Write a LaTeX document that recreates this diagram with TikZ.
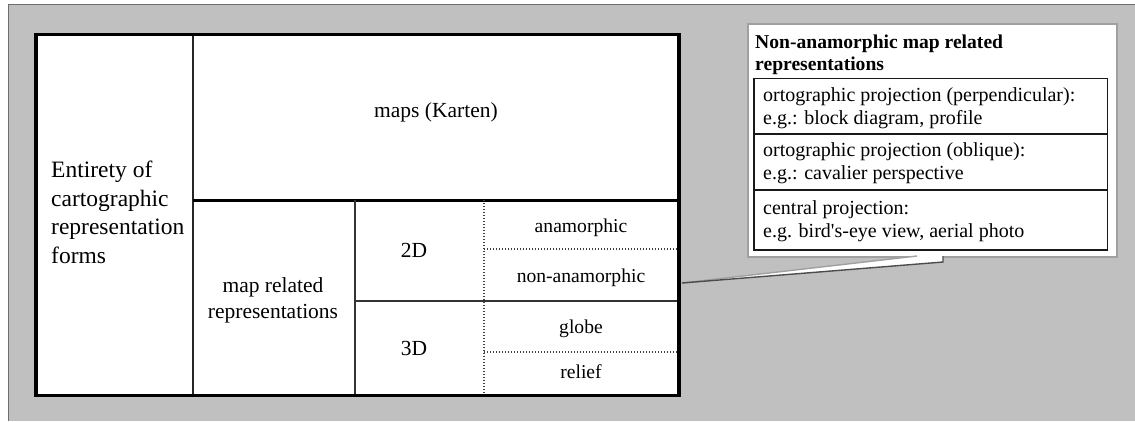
\documentclass[tikz,border=0pt]{standalone}
\usepackage{fontspec}
\setmainfont{Liberation Serif}
\usetikzlibrary{calc}
\definecolor{panelgray}{HTML}{C0C0C0}
\definecolor{paneledge}{HTML}{6E6E6E}
\definecolor{noteedge}{HTML}{A0A0A0}
\tikzset{
  thickrule/.style={line width=3.3pt, black},
  midrule/.style={line width=2.4pt, black!85},
  thinrule/.style={line width=1.8pt, black!80},
  dotrule/.style={line width=1.4pt, black!75, dash pattern=on 1.4pt off 1.6pt},
  notebox/.style={fill=white, draw=noteedge, line width=1.6pt},
  notegrid/.style={line width=1.3pt, black!90},
  bigtext/.style={inner sep=0pt, font=\fontsize{23.5}{28.5}\selectfont},
  celltext/.style={inner sep=0pt, font=\fontsize{21.5}{26}\selectfont},
  smalltext/.style={inner sep=0pt, font=\fontsize{19.6}{23}\selectfont},
  notetext/.style={inner sep=0pt, align=left, anchor=base west, font=\fontsize{20}{23}\selectfont},
}
\begin{document}
\begin{tikzpicture}[x=1pt, y=-1pt]
\useasboundingbox (0,0) rectangle (1135,421);

% grey backdrop
\fill[panelgray] (8,4) rectangle (1135,421);
\draw[paneledge, line width=1pt] (8,421) -- (8,4) -- (1135,4);

% main table
\fill[white] (36,34.5) rectangle (679,395.7);
\draw[midrule] (192.8,34.5) -- (192.8,395.7);
\draw[line width=3pt] (192.8,200) -- (679,200);
\draw[thinrule] (355,200) -- (355,395.7);
\draw[thinrule] (355,301) -- (679,301);
\draw[dotrule] (484,200) -- (484,395.7);
\draw[dotrule] (484,249) -- (679,249);
\draw[dotrule] (484,352) -- (679,352);
\draw[thickrule] (36,34.5) rectangle (679,395.7);

% table texts (multi-line nodes: base = baseline of the last line)
\node[bigtext, anchor=base west, align=left] (entirety) at (51,263)
  {Entirety of\\cartographic\\representation\\forms};
\node[celltext, anchor=base] (maps) at (436,117) {maps (Karten)};
\node[celltext, anchor=base, align=center] (related) at (273,318)
  {map related\\representations};
\node[celltext, anchor=base] (twoD) at (414,257) {2D};
\node[celltext, anchor=base] (threeD) at (414,355) {3D};
\node[smalltext, anchor=base] (anam) at (581,232) {anamorphic};
\node[smalltext, anchor=base] (nonanam) at (581,282) {non-anamorphic};
\node[smalltext, anchor=base] (globe) at (581,333) {globe};
\node[smalltext, anchor=base] (relief) at (581,378) {relief};

% callout box
\node[notebox, minimum width=369pt, minimum height=233pt, anchor=north west,
      inner sep=0pt] (note) at (747,23) {};
\coordinate (tip) at (682,283);
\coordinate (tailA) at (917,256);
\coordinate (tailB) at (943,262);
\coordinate (tailC) at (943,256);
\fill[white] (tailA) -- (tip) -- (tailB) -- (tailC) -- cycle;
\draw[noteedge, line width=1.4pt] (tailA) -- (tip);
\draw[black!70, line width=1.4pt] (tip) -- (tailB) -- (tailC);
\fill[white] ($(tailA)+(0.8,0)$) rectangle ($(tailC)+(-0.8,-1.2)$);

% callout grid
\draw[notegrid] (754,78.7) rectangle (1107.7,250);
\draw[notegrid] (754,134) -- (1107.7,134);
\draw[notegrid] (754,190) -- (1107.7,190);

% callout texts
\node[notetext, font=\bfseries\fontsize{19.6}{22}\selectfont] (notetitle) at (755,70)
  {Non-anamorphic map related\\representations};
\node[notetext] (rowA) at (763,124)
  {ortographic projection (perpendicular):\\e.g.: block diagram, profile};
\node[notetext] (rowB) at (763,179)
  {ortographic projection (oblique):\\e.g.: cavalier perspective};
\node[notetext] (rowC) at (763,237)
  {central projection:\\e.g. bird\textquotesingle s-eye view, aerial photo};
\end{tikzpicture}
\end{document}
